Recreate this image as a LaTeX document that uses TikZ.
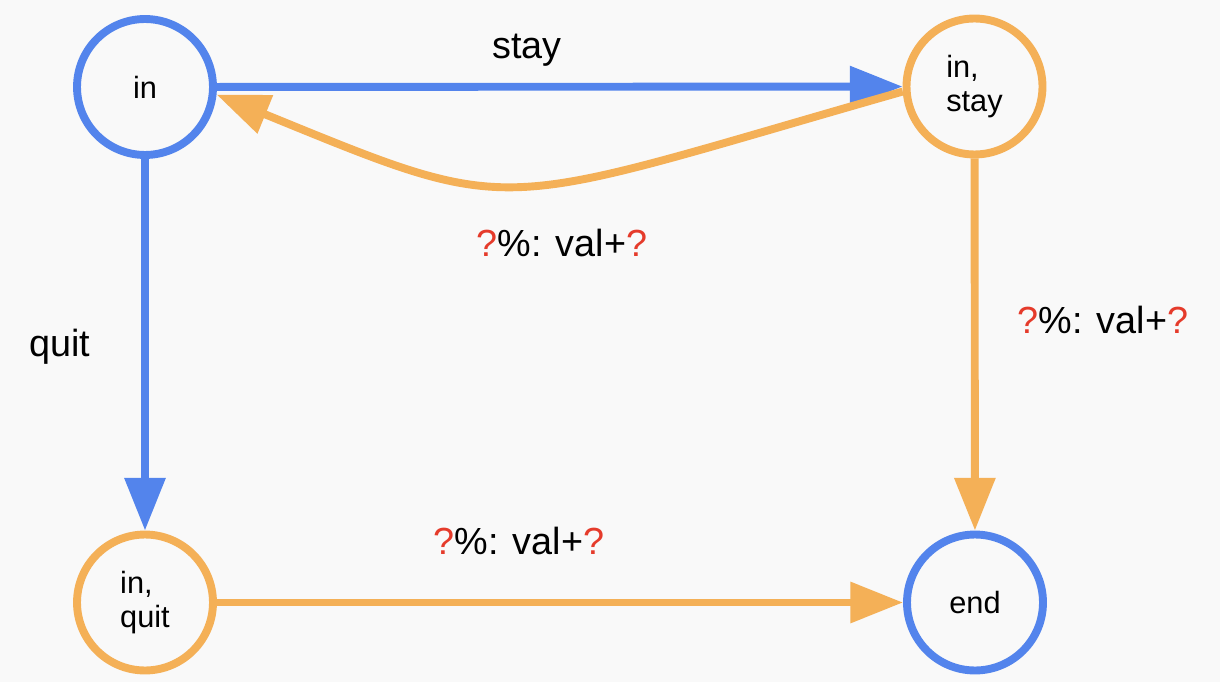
\documentclass[tikz,border=0pt]{standalone}
\usepackage{fontspec}
\setmainfont{Liberation Sans}
\usetikzlibrary{arrows.meta}
\definecolor{azure}{HTML}{5384EC}
\definecolor{amber}{HTML}{F4B057}
\definecolor{flag}{HTML}{E53B2B}
\definecolor{paper}{HTML}{F9F9F9}
\newcommand{\qm}{{\color{flag}?}}
\tikzset{
  st/.style   ={circle, draw=azure, line width=4.5pt, fill=paper, minimum size=2.72cm, align=left, inner sep=0pt, font=\fontsize{17.5}{19}\selectfont},
  stc/.style  ={st, draw=amber},
  lnb/.style  ={draw=azure, line width=4.5pt, -{Triangle[length=30pt,width=22.5pt]}},
  lno/.style  ={draw=amber, line width=4.5pt, -{Triangle[length=30pt,width=22.5pt]}},
  tag/.style  ={font=\fontsize{21.5}{24}\selectfont, inner sep=0pt},
}
\begin{document}
\begin{tikzpicture}[x=0.02cm,y=-0.02cm]
    \fill[paper] (0,0) rectangle (1220,682);
    \useasboundingbox (0,0) rectangle (1220,682);
    \node[st]  (sin)   at (145,87)    {in};
    \node[stc] (sstay) at (974.5,86.5) {in,\\stay};
    \node[stc] (squit) at (145,602.5) {in,\\quit};
    \node[st]  (send)  at (975,602.5) {end};
    \draw[lnb] (sin) -- (sstay);
    \draw[lno] (sstay.184) .. controls (487,210) and (524,220) .. (sin.-6);
    \draw[lnb] (sin) -- (squit);
    \draw[lno] (sstay) -- (send);
    \draw[lno] (squit) -- (send);
    % edge labels
    \node[tag] (lstay) at (527,50)  {stay};
    \node[tag] (lquit) at (60,347)  {quit};
    \node[tag] (lback) at (562,243) {\qm\%: val+\qm};
    \node[tag] (ldown) at (1103,320) {\qm\%: val+\qm};
    \node[tag] (lend)  at (519,541) {\qm\%: val+\qm};
\end{tikzpicture}
\end{document}
